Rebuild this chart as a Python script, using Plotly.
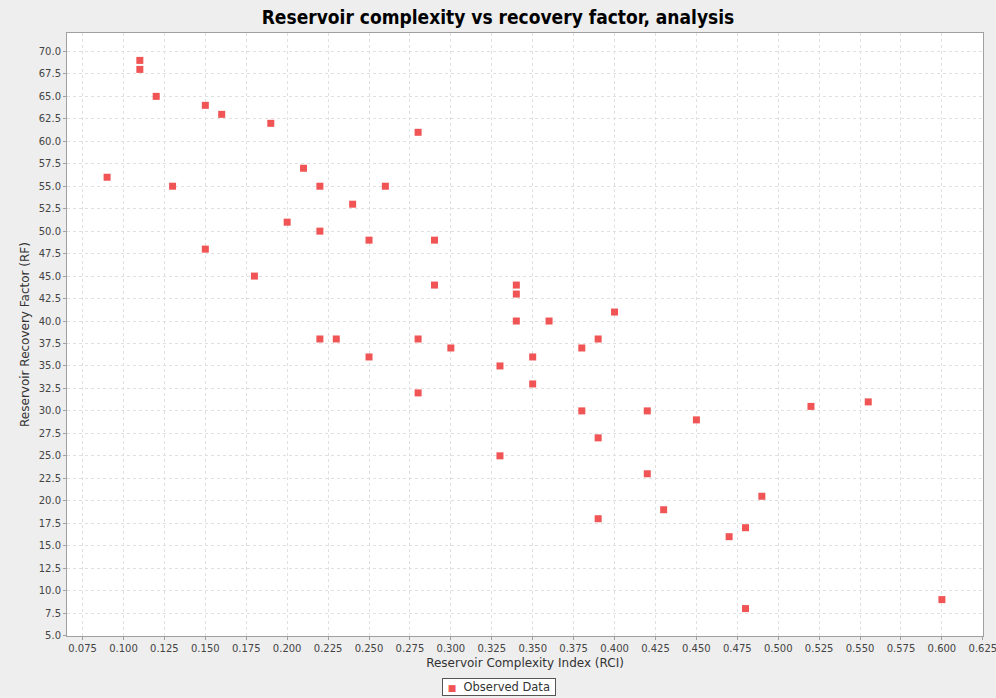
import plotly.graph_objects as go

# Observed reservoir data: complexity index vs recovery factor
rci = [0.09, 0.11, 0.11, 0.12, 0.13, 0.15, 0.15, 0.16, 0.18, 0.19,
       0.20, 0.21, 0.22, 0.22, 0.22, 0.23, 0.24, 0.25, 0.25, 0.26,
       0.28, 0.28, 0.28, 0.29, 0.29, 0.30, 0.33, 0.33, 0.34, 0.34,
       0.34, 0.35, 0.35, 0.36, 0.38, 0.38, 0.39, 0.39, 0.39, 0.40,
       0.42, 0.42, 0.43, 0.45, 0.47, 0.48, 0.48, 0.49, 0.52, 0.555,
       0.60]
rf = [56, 69, 68, 65, 55, 64, 48, 63, 45, 62,
      51, 57, 55, 50, 38, 38, 53, 49, 36, 55,
      61, 38, 32, 49, 44, 37, 35, 25, 44, 43,
      40, 36, 33, 40, 37, 30, 38, 27, 18, 41,
      30, 23, 19, 29, 16, 17, 8, 20.5, 30.5, 31,
      9]

title_text = "Reservoir complexity vs recovery factor, analysis"
x_title = "Reservoir Complexity Index (RCI)"
y_title = "Reservoir Recovery Factor (RF)"
series_name = "Observed Data"
marker_color = "#f05454"

fig = go.Figure()
fig.add_trace(go.Scatter(
    x=rci, y=rf, mode="markers", name=series_name,
    marker=dict(symbol="square", size=7, color=marker_color, line=dict(width=0)),
    showlegend=False,
))

axis_common = dict(
    showgrid=True, gridcolor="#e0e0e0", griddash="dot", gridwidth=1,
    showline=True, linecolor="#a0a0a0", linewidth=1, mirror=True,
    ticks="outside", ticklen=3, tickcolor="#a0a0a0",
    zeroline=False, ticklabeloverflow="allow", automargin=False,
    tickfont=dict(family="DejaVu Sans", size=10, color="#444444"),
)

fig.update_layout(
    width=996, height=698,
    paper_bgcolor="#eeeeee", plot_bgcolor="#ffffff",
    margin=dict(l=67, r=13, t=33, b=62, autoexpand=False),
    title=dict(text=title_text, x=0.5, xanchor="center",
               y=1 - 17 / 698, yanchor="middle",
               font=dict(family="DejaVu Sans Condensed", size=19, color="#000000", weight="bold")),
    xaxis=dict(range=[0.0655, 0.6251], tick0=0.075, dtick=0.025, tickformat=".3f",
               title=dict(text=x_title, standoff=5,
                          font=dict(family="DejaVu Sans", size=12, color="#333333")),
               **axis_common),
    yaxis=dict(range=[4.95, 72.05], tick0=5, dtick=2.5, tickformat=".1f",
               title=dict(text=y_title, standoff=6,
                          font=dict(family="DejaVu Sans", size=12, color="#333333")),
               **axis_common),
)

# Compact bordered legend box centred under the chart
fig.add_annotation(
    xref="paper", yref="paper", x=(499 - 67) / 916, y=-(687 - 636) / 603,
    xanchor="center", yanchor="middle", showarrow=False,
    text=(f"&nbsp;<span style='color:{marker_color};font-size:9px'>■</span>"
          f"&nbsp;&nbsp;{series_name}&nbsp;"),
    font=dict(family="DejaVu Sans", size=11.5, color="#333333"),
    bgcolor="#ffffff", bordercolor="#555555", borderwidth=1, borderpad=1,
)

fig.write_html("out.html")
